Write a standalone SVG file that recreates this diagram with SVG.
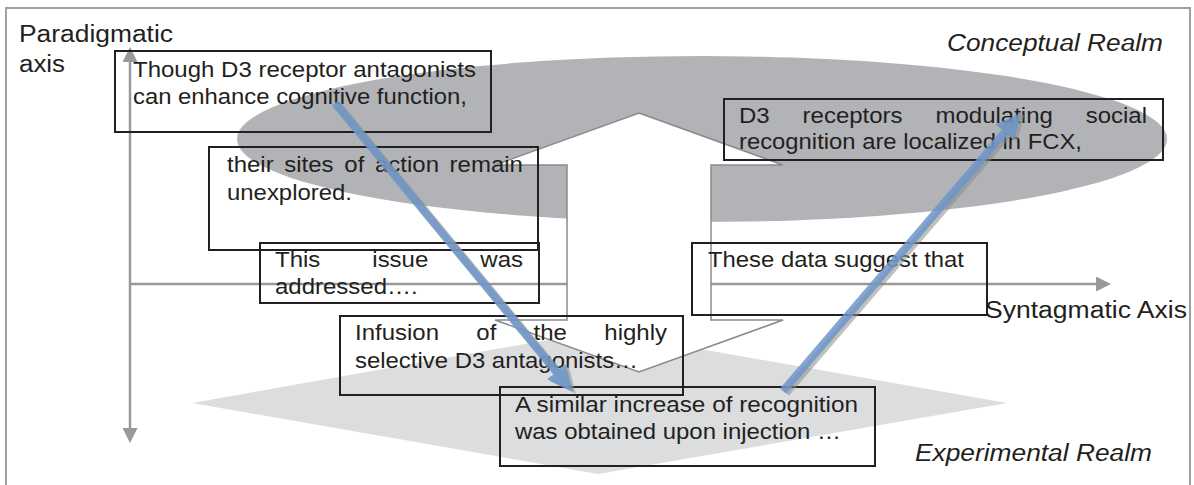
<svg xmlns="http://www.w3.org/2000/svg" width="1194" height="485" viewBox="0 0 1194 485">
<style>
  .t{font-family:"Liberation Sans",Arial,sans-serif;font-size:22px;fill:#231f20}
  .lb{font-family:"Liberation Sans",Arial,sans-serif;font-size:23px;fill:#231f20}
  .it{font-style:italic}
  .box{fill:none;stroke:#231f20;stroke-width:2}
  .axis{stroke:#999;stroke-width:2.5;fill:none}
  .blue{stroke:#6e96c9;stroke-width:8;fill:none}
  .shadow{stroke:#8c8c8c;stroke-width:8;fill:none}
</style>
<defs>
  <marker id="axhead" viewBox="0 -7.5 15 15" refX="0" refY="0" markerWidth="15" markerHeight="15" markerUnits="userSpaceOnUse" orient="auto">
    <path d="M0,-7.5 L15,0 L0,7.5 Z" fill="#999"/>
  </marker>
  <marker id="bhead" viewBox="0 -1.5 3.25 3" refX="0.05" refY="0" markerWidth="3.25" markerHeight="3" markerUnits="strokeWidth" orient="auto">
    <path d="M0,-1.5 L3.25,0 L0,1.5 Z" fill="#6e96c9"/>
  </marker>
  <marker id="shead" viewBox="0 -1.5 3.25 3" refX="0.05" refY="0" markerWidth="3.25" markerHeight="3" markerUnits="strokeWidth" orient="auto">
    <path d="M0,-1.5 L3.25,0 L0,1.5 Z" fill="#8c8c8c"/>
  </marker>
</defs>
<rect width="1194" height="485" fill="#fff"/>
<rect x="6" y="8" width="1184" height="500" fill="none" stroke="#a0a0a0" stroke-width="2"/>

<g id="conceptual-realm">
  <ellipse cx="702" cy="139" rx="465" ry="83" fill="#b2b3b7"/>
</g>
<g id="experimental-realm">
  <polygon points="192,403 598,331 1007,403 598,474" fill="#dcdddf"/>
</g>

<g id="axes">
  <line class="axis" x1="130" y1="284" x2="130" y2="62" marker-end="url(#axhead)"/>
  <line class="axis" x1="130" y1="284" x2="130" y2="428" marker-end="url(#axhead)"/>
  <line class="axis" x1="130" y1="284" x2="1096" y2="284" marker-end="url(#axhead)"/>
</g>

<g id="updown-arrow">
  <polygon points="639,113 783,165 711,165 711,320 783,320 639,372 495,320 567,320 567,165 495,165" fill="#fff" stroke="#8a8a8a" stroke-width="1.5"/>
</g>

<g id="labels">
  <text class="lb" x="19" y="42" textLength="154" lengthAdjust="spacingAndGlyphs">Paradigmatic</text>
  <text class="lb" x="19" y="72" textLength="46" lengthAdjust="spacingAndGlyphs">axis</text>
  <text class="lb it" x="947" y="51" textLength="216" lengthAdjust="spacingAndGlyphs">Conceptual Realm</text>
  <text class="lb" x="985" y="318" textLength="202" lengthAdjust="spacingAndGlyphs">Syntagmatic Axis</text>
  <text class="lb it" x="915" y="461" textLength="237" lengthAdjust="spacingAndGlyphs">Experimental Realm</text>
</g>

<g id="node-though">
  <rect class="box" x="115" y="51" width="376" height="81"/>
  <text class="t" x="133" y="77" textLength="343" lengthAdjust="spacingAndGlyphs">Though D3 receptor antagonists</text>
  <text class="t" x="133" y="104" textLength="334" lengthAdjust="spacingAndGlyphs">can enhance cognitive function,</text>
</g>

<g id="node-sites">
  <rect class="box" x="209" y="147" width="329" height="103"/>
  <text class="t" x="227" y="172" textLength="46.7" lengthAdjust="spacingAndGlyphs">their</text>
  <text class="t" x="284.3" y="172" textLength="49.3" lengthAdjust="spacingAndGlyphs">sites</text>
  <text class="t" x="344.3" y="172" textLength="20" lengthAdjust="spacingAndGlyphs">of</text>
  <text class="t" x="375" y="172" textLength="64" lengthAdjust="spacingAndGlyphs">action</text>
  <text class="t" x="449.6" y="172" textLength="73.3" lengthAdjust="spacingAndGlyphs">remain</text>
  <text class="t" x="227" y="200" textLength="125" lengthAdjust="spacingAndGlyphs">unexplored.</text>
</g>

<g id="node-issue">
  <rect class="box" x="260" y="243" width="279" height="60"/>
  <text class="t" x="275" y="267" textLength="45.3" lengthAdjust="spacingAndGlyphs">This</text>
  <text class="t" x="372.3" y="267" textLength="56" lengthAdjust="spacingAndGlyphs">issue</text>
  <text class="t" x="480.3" y="267" textLength="42.7" lengthAdjust="spacingAndGlyphs">was</text>
  <text class="t" x="275" y="294" textLength="142.7" lengthAdjust="spacingAndGlyphs">addressed….</text>
</g>

<g id="node-infusion">
  <rect class="box" x="340" y="316" width="343" height="79"/>
  <text class="t" x="355" y="340" textLength="84" lengthAdjust="spacingAndGlyphs">Infusion</text>
  <text class="t" x="476.3" y="340" textLength="20" lengthAdjust="spacingAndGlyphs">of</text>
  <text class="t" x="533.6" y="340" textLength="33.4" lengthAdjust="spacingAndGlyphs">the</text>
  <text class="t" x="604.3" y="340" textLength="62.7" lengthAdjust="spacingAndGlyphs">highly</text>
  <text class="t" x="355" y="368" textLength="283" lengthAdjust="spacingAndGlyphs">selective D3 antagonists…</text>
</g>

<g id="node-similar">
  <rect class="box" x="500" y="387" width="375" height="79"/>
  <text class="t" x="515" y="412" textLength="343" lengthAdjust="spacingAndGlyphs">A similar increase of recognition</text>
  <text class="t" x="515" y="439" textLength="326" lengthAdjust="spacingAndGlyphs">was obtained upon injection …</text>
</g>

<g id="node-receptors">
  <rect class="box" x="724" y="99" width="439" height="61"/>
  <text class="t" x="739" y="123" textLength="30.7" lengthAdjust="spacingAndGlyphs">D3</text>
  <text class="t" x="802.6" y="123" textLength="100" lengthAdjust="spacingAndGlyphs">receptors</text>
  <text class="t" x="935.5" y="123" textLength="117.4" lengthAdjust="spacingAndGlyphs">modulating</text>
  <text class="t" x="1085.7" y="123" textLength="61.3" lengthAdjust="spacingAndGlyphs">social</text>
  <text class="t" x="739" y="149" textLength="343" lengthAdjust="spacingAndGlyphs">recognition are localized in FCX,</text>
</g>

<g id="node-suggest">
  <rect class="box" x="692" y="243" width="295" height="72"/>
  <text class="t" x="708" y="267" textLength="256" lengthAdjust="spacingAndGlyphs">These data suggest that</text>
</g>

<g id="connectors">
  <g opacity="0.55">
    <line class="shadow" x1="338" y1="105" x2="559.5" y2="374" marker-end="url(#shead)"/>
    <line class="shadow" x1="786" y1="393" x2="1008" y2="134" marker-end="url(#shead)"/>
  </g>
  <g opacity="0.85">
    <line class="blue" x1="335" y1="103" x2="556.5" y2="372" marker-end="url(#bhead)"/>
    <line class="blue" x1="783" y1="391" x2="1005" y2="132" marker-end="url(#bhead)"/>
  </g>
</g>
</svg>
